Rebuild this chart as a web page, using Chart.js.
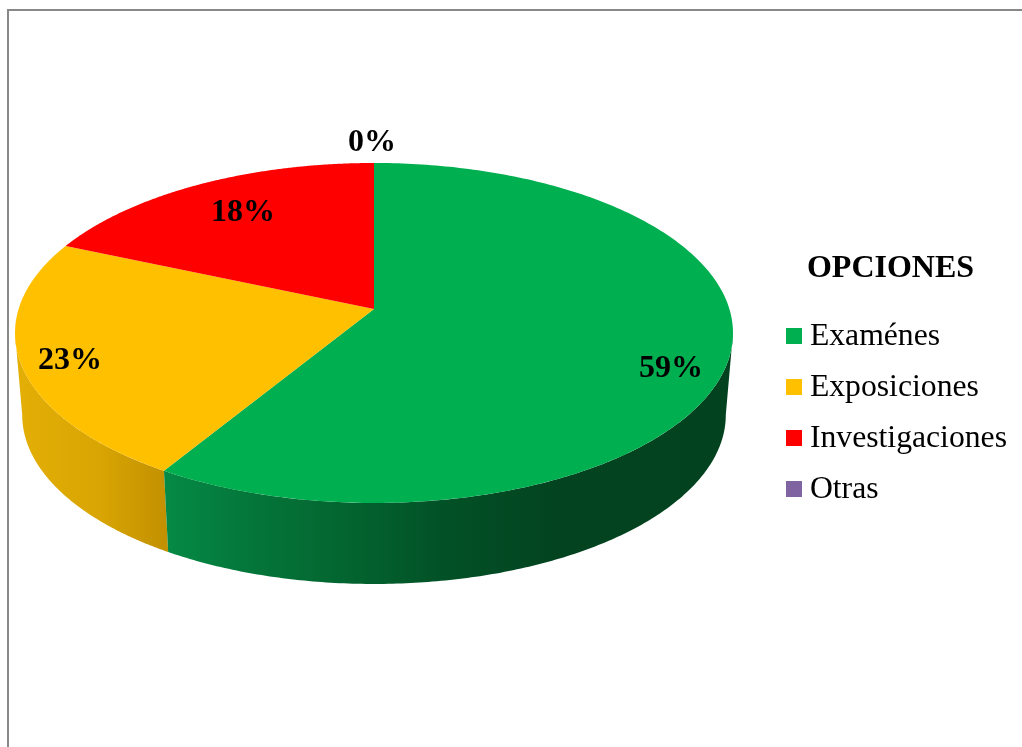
<!DOCTYPE html>
<html><head><meta charset="utf-8">
<style>html,body{margin:0;padding:0;background:#fff;overflow:hidden}canvas{display:block}</style>
<script src="https://cdn.jsdelivr.net/npm/chart.js@4"></script>
</head><body><canvas id="c" width="1022" height="747"></canvas>
<script>
const categories = ['Examénes','Exposiciones','Investigaciones','Otras'];
const values = [58.7, 22.85, 18.45, 0];
const colors = ['#00AF50','#FFC000','#FF0000','#8064A2'];
const legendTitle = 'OPCIONES\u2004';
const labelPos = [[671,369],[70,361],[243,213],[372,143]];
const wallStops = [
  [[165,'#058a45'],[250,'#04763a'],[350,'#03642f'],[450,'#025026'],[560,'#03431f'],[733,'#03421f']],
  [[20,'#e3ae05'],[100,'#d8a503'],[168,'#c29000']]
];
const serif = '"Liberation Serif","Times New Roman",serif';

// Perspective projection of the pie plane
const P = {cx:374, y0:309, A:355.4, B:166.6, k:0.141, yb:391, sx:0.98, sy:0.995};
function proj(t, r, bottom){
  const u = Math.sin(t)*r, v = -Math.cos(t)*r, w = 1 - P.k*v;
  return bottom ? [P.cx + P.sx*P.A*u/w, P.yb + P.sy*P.B*v/w]
                : [P.cx + P.A*u/w, P.y0 + P.B*v/w];
}
function angles(arc){ return [arc.startAngle + Math.PI/2, arc.endAngle + Math.PI/2]; }
const silhouette = Math.acos(-P.k);

const pie3d = {
  id:'pie3d',
  beforeDraw(chart){
    const c = chart.ctx;
    c.save();
    c.fillStyle = '#fff'; c.fillRect(0,0,chart.width,chart.height);
    c.fillStyle = '#888';
    c.fillRect(7,9,chart.width-7,2);
    c.fillRect(7,9,2,chart.height-9);
    c.restore();
  },
  beforeDatasetsDraw(chart){
    const c = chart.ctx, arcs = chart.getDatasetMeta(0).data;
    c.save();
    [1,0].forEach(i=>{
      let [a,b] = angles(arcs[i]);
      a = Math.max(a, silhouette); b = Math.min(b, 2*Math.PI - silhouette);
      if(b<=a) return;
      const st = wallStops[i], x0 = st[0][0], x1 = st[st.length-1][0];
      const g = c.createLinearGradient(x0,0,x1,0);
      st.forEach(s=>g.addColorStop((s[0]-x0)/(x1-x0), s[1]));
      c.beginPath();
      const n = 180;
      for(let j=0;j<=n;j++){const p=proj(a+(b-a)*j/n,1,false); j?c.lineTo(p[0],p[1]):c.moveTo(p[0],p[1]);}
      for(let j=n;j>=0;j--){const p=proj(a+(b-a)*j/n,1,true); c.lineTo(p[0],p[1]);}
      c.closePath(); c.fillStyle = g; c.fill();
    });
    arcs.forEach((arc,i)=>{
      const [a,b] = angles(arc);
      if(b-a<=0) return;
      c.beginPath();
      c.moveTo(P.cx,P.y0);
      const n = 240;
      for(let j=0;j<=n;j++){const p=proj(a+(b-a)*j/n,1,false); c.lineTo(p[0],p[1]);}
      c.closePath(); c.fillStyle = colors[i]; c.fill();
    });
    c.fillStyle = '#000';
    c.font = 'bold 32px '+serif;
    c.textAlign = 'center'; c.textBaseline = 'middle';
    values.forEach((v,i)=> c.fillText(Math.round(v)+'%', labelPos[i][0], labelPos[i][1]));
    c.restore();
    return false;
  }
};

function square(col){
  const s = document.createElement('canvas'); s.width = 16; s.height = 16;
  const x = s.getContext('2d'); x.fillStyle = col; x.fillRect(0,0,16,16);
  return s;
}

new Chart(document.getElementById('c'),{
  type:'pie',
  data:{labels:categories,datasets:[{data:values,backgroundColor:colors,borderWidth:0}]},
  plugins:[pie3d],
  options:{
    responsive:false,animation:false,
    layout:{padding:{right:5,top:30,bottom:0}},
    plugins:{
      tooltip:{enabled:false},
      legend:{
        position:'right',align:'center',
        title:{display:true,text:legendTitle,color:'#000',font:{family:serif,size:32,weight:'bold'},padding:{top:0,bottom:10}},
        labels:{
          color:'#000',font:{family:serif,size:31.7},usePointStyle:true,pointStyleWidth:0.01,padding:19.3,
          generateLabels(chart){
            return categories.map((t,i)=>({text:t,fillStyle:colors[i],strokeStyle:colors[i],lineWidth:0,pointStyle:square(colors[i]),hidden:false,index:i,fontColor:'#000'}));
          }
        }
      }
    }
  }
});
</script></body></html>
